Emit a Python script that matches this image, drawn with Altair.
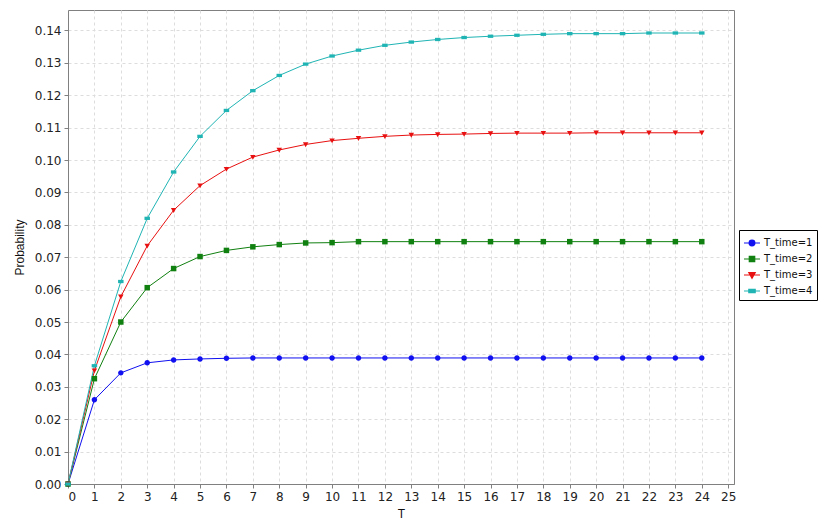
import altair as alt
import pandas as pd

T = list(range(25))
series = ["T_time=1", "T_time=2", "T_time=3", "T_time=4"]
p1 = [0.0, 0.0260, 0.0343, 0.0374, 0.0383, 0.0386, 0.0388, 0.0389, 0.0389, 0.0389,
      0.0389, 0.0389, 0.0389, 0.0389, 0.0389, 0.0389, 0.0389, 0.0389, 0.0389, 0.0389,
      0.0389, 0.0389, 0.0389, 0.0389, 0.0389]
p2 = [0.0, 0.0325, 0.0500, 0.0606, 0.0665, 0.0702, 0.0721, 0.0732, 0.0739, 0.0744,
      0.0745, 0.0748, 0.0748, 0.0748, 0.0748, 0.0748, 0.0748, 0.0748, 0.0748, 0.0748,
      0.0748, 0.0748, 0.0748, 0.0748, 0.0748]
p3 = [0.0, 0.0350, 0.0578, 0.0735, 0.0845, 0.0921, 0.0972, 0.1009, 0.1031, 0.1048,
      0.1060, 0.1067, 0.1073, 0.1077, 0.1079, 0.1080, 0.1082, 0.1083, 0.1083, 0.1083,
      0.1084, 0.1084, 0.1084, 0.1084, 0.1084]
p4 = [0.0, 0.0365, 0.0625, 0.0820, 0.0963, 0.1073, 0.1153, 0.1214, 0.1261, 0.1296,
      0.1321, 0.1339, 0.1354, 0.1364, 0.1372, 0.1378, 0.1382, 0.1385, 0.1388, 0.1390,
      0.1390, 0.1390, 0.1392, 0.1392, 0.1392]
colors = ["#1010f0", "#108010", "#e81010", "#20b4b4"]

rows = []
for name, vals in zip(series, [p1, p2, p3, p4]):
    for t, v in zip(T, vals):
        rows.append({"T": t, "Probability": v, "series": name})
df = pd.DataFrame(rows)

marker_paths = [
    "M-1,0A1,1 0 1,0 1,0A1,1 0 1,0 -1,0Z",
    "M-1,-1L1,-1L1,1L-1,1Z",
    "M-1,-0.8L1,-0.8L0,1Z",
    "M-1,-0.6L1,-0.6L1,0.6L-1,0.6Z",
]
legend_paths = [
    "M-1,0L1,0M-0.36,0A0.36,0.36 0 1,0 0.36,0A0.36,0.36 0 1,0 -0.36,0Z",
    "M-1,0L1,0M-0.34,-0.34L0.34,-0.34L0.34,0.34L-0.34,0.34Z",
    "M-1,0L1,0M-0.4,-0.3L0.4,-0.3L0,0.42Z",
    "M-1,0L1,0M-0.4,-0.2L0.4,-0.2L0.4,0.2L-0.4,0.2Z",
]

axis_common = dict(grid=True, gridDash=[3, 3], gridColor="#dddddd",
                   domainColor="#808080", tickColor="#808080", tickSize=4,
                   labelFont="DejaVu Sans", labelFontSize=12, labelColor="#222222",
                   labelPadding=3,
                   titleFont="Liberation Sans", titleFontSize=12,
                   titleFontWeight="normal", titleColor="#111111")

x_enc = alt.X("T:Q", title="T",
              scale=alt.Scale(domain=[0, 25.22], nice=False, zero=False),
              axis=alt.Axis(values=list(range(26)), format="d", titlePadding=6,
                            **axis_common))
y_enc = alt.Y("Probability:Q", title="Probability",
              scale=alt.Scale(domain=[0, 0.1463], nice=False),
              axis=alt.Axis(values=[i / 100 for i in range(15)], format=".2f",
                            titlePadding=8, **axis_common))

color_scale = alt.Scale(domain=series, range=colors)

lines = alt.Chart(df).mark_line(strokeWidth=1).encode(
    x=x_enc, y=y_enc,
    color=alt.Color("series:N", scale=color_scale, legend=None),
)
points = alt.Chart(df).mark_point(filled=True, size=30, opacity=1).encode(
    x=x_enc, y=y_enc,
    color=alt.Color("series:N", scale=color_scale, legend=None),
    shape=alt.Shape("series:N", scale=alt.Scale(domain=series, range=marker_paths), legend=None),
)
legend_layer = alt.Chart(df).mark_point(opacity=0, strokeWidth=1.2).encode(
    x=x_enc, y=y_enc,
    fill=alt.Fill("series:N", scale=alt.Scale(domain=series, range=colors),
                  legend=alt.Legend(title=None)),
    stroke=alt.Stroke("series:N", scale=alt.Scale(domain=series, range=colors),
                      legend=alt.Legend(title=None)),
    shape=alt.Shape("series:N", scale=alt.Scale(domain=series, range=legend_paths),
                    legend=alt.Legend(title=None)),
)

chart = alt.layer(lines, points, legend_layer).resolve_scale(
    color="independent", shape="independent", fill="independent", stroke="independent"
).properties(
    width=666, height=474,
    autosize=alt.AutoSizeParams(type="none"),
    padding={"left": 60, "top": 2, "right": 84, "bottom": 38},
).configure_view(
    stroke="#808080", strokeWidth=1
).configure_legend(
    orient="none", legendX=671, legendY=220,
    strokeColor="#000000", padding=4, fillColor="white",
    symbolSize=256, symbolOpacity=1, symbolStrokeWidth=1.2,
    labelFont="DejaVu Sans", labelFontSize=10, labelColor="#111111",
    rowPadding=1, labelOffset=3,
)

chart.save("out.html", embed_options={"renderer": "svg", "actions": False})
